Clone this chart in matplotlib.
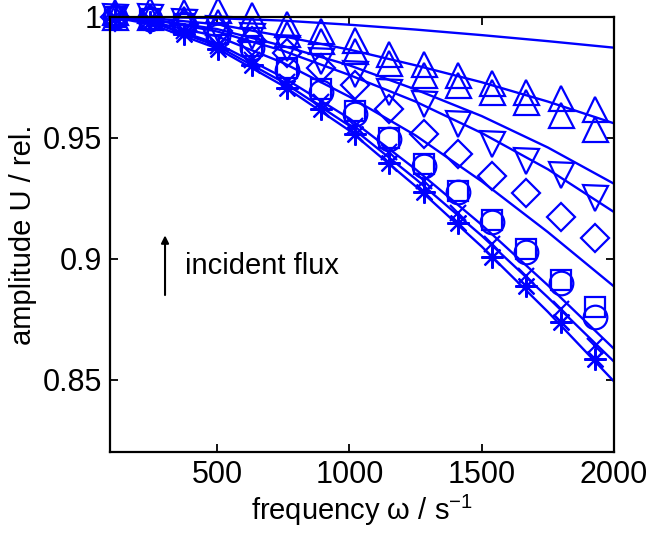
import numpy as np
import matplotlib.pyplot as plt

plt.rcParams['font.family'] = ['Liberation Sans', 'DejaVu Sans']
plt.rcParams['mathtext.fontset'] = 'custom'
plt.rcParams['mathtext.rm'] = 'Liberation Sans'

# measured points
omega = [115, 245, 374, 504, 633, 763, 892, 1022, 1151, 1281, 1410, 1540, 1669, 1799, 1928]

u_star = [0.999, 0.998, 0.993, 0.9869, 0.980, 0.9705, 0.962, 0.9516, 0.9395, 0.9275, 0.9148, 0.9005, 0.8885, 0.874, 0.8586]
u_cross = [1.0, 0.999, 0.994, 0.988, 0.982, 0.973, 0.965, 0.955, 0.944, 0.932, 0.919, 0.906, 0.893, 0.879, 0.864]
u_circle = [1.0, 0.999, 0.997, 0.992, 0.987, 0.978, 0.969, 0.9598, 0.9496, 0.9385, 0.9275, 0.9152, 0.9029, 0.890, 0.876]
u_square = [1.0, 0.999, 0.997, 0.993, 0.988, 0.979, 0.970, 0.961, 0.950, 0.939, 0.928, 0.916, 0.904, 0.891, 0.880]
u_diamond = [1.0, 0.999, 0.997, 0.994, 0.990, 0.985, 0.9787, 0.972, 0.962, 0.9516, 0.9434, 0.9344, 0.927, 0.9172, 0.9086]
u_tri_down = [1.0, 1.0, 0.998, 0.995, 0.992, 0.987, 0.9816, 0.9766, 0.969, 0.964, 0.9557, 0.9475, 0.9406, 0.9345, 0.925]
u_tri_up1 = [1.002, 1.003, 1.002, 1.003, 1.001, 0.997, 0.994, 0.9906, 0.9848, 0.9807, 0.9762, 0.9725, 0.969, 0.9664, 0.962]
u_tri_up2 = [1.0, 1.0, 0.999, 0.998, 0.995, 0.993, 0.990, 0.986, 0.981, 0.976, 0.972, 0.9689, 0.9648, 0.9594, 0.9537]

# model curves
omega_fit = [100, 250, 500, 750, 1000, 1250, 1500, 1750, 2000]
fit1 = [1.0, 1.0, 0.9995, 0.9985, 0.9968, 0.9948, 0.9925, 0.990, 0.9873]
fit2 = [1.0, 0.9995, 0.997, 0.992, 0.9865, 0.980, 0.973, 0.965, 0.956]
fit3 = [1.0, 0.999, 0.995, 0.988, 0.980, 0.970, 0.959, 0.946, 0.931]
fit4 = [1.0, 0.999, 0.994, 0.986, 0.976, 0.965, 0.952, 0.937, 0.9193]
fit5 = [1.0, 0.998, 0.992, 0.981, 0.967, 0.951, 0.932, 0.911, 0.8885]
fit6 = [1.0, 0.998, 0.989, 0.975, 0.958, 0.937, 0.914, 0.889, 0.8627]
fit7 = [1.0, 0.998, 0.988, 0.973, 0.955, 0.933, 0.9095, 0.884, 0.8574]
fit8 = [1.0, 0.997, 0.987, 0.9715, 0.953, 0.930, 0.905, 0.878, 0.8492]

blue = '#0000ff'

fig = plt.figure(figsize=(6.52, 5.41), dpi=100)
ax = fig.add_axes([0.1687, 0.1645, 0.7730, 0.8041])

mk = dict(color=blue, linestyle='none', markerfacecolor='none', markeredgecolor=blue,
          markeredgewidth=1.6, clip_on=False)
ax.plot(omega, u_star, marker=(8, 2, 0), markersize=16, **mk)
ax.plot(omega, u_cross, marker='x', markersize=11, **mk)
ax.plot(omega, u_circle, marker='o', markersize=17, **mk)
ax.plot(omega, u_square, marker='s', markersize=14, **mk)
ax.plot(omega, u_diamond, marker='D', markersize=14, **mk)
ax.plot(omega, u_tri_down, marker='v', markersize=18, **mk)
ax.plot(omega, u_tri_up1, marker='^', markersize=18, **mk)
ax.plot(omega, u_tri_up2, marker='^', markersize=18, **mk)

for fit in [fit1, fit2, fit3, fit4, fit5, fit6, fit7, fit8]:
    ax.plot(omega_fit, fit, color=blue, linewidth=1.7)

ax.annotate('', xy=(303, 0.9108), xytext=(303, 0.8838),
            arrowprops=dict(arrowstyle='-|>', color='black', lw=1.5, mutation_scale=11))
ax.text(378, 0.8971, 'incident flux', fontsize=21, va='center', ha='left')

ax.set_xlim(95, 2000)
ax.set_ylim(0.82, 1.0)
ax.set_xticks([500, 1000, 1500, 2000])
ax.set_yticks([0.85, 0.9, 0.95, 1.0])
ax.set_yticklabels(['0.85', '0.9', '0.95', '1'])
ax.tick_params(direction='in', top=True, right=True, length=6, width=1.3, labelsize=22, pad=6)
for s in ax.spines.values():
    s.set_linewidth(1.6)
ax.set_xlabel('frequency ω / s$^{-1}$', fontsize=21, labelpad=2)
ax.set_ylabel('amplitude U / rel.', fontsize=21, labelpad=4)

plt.savefig('out.png', dpi=100)
